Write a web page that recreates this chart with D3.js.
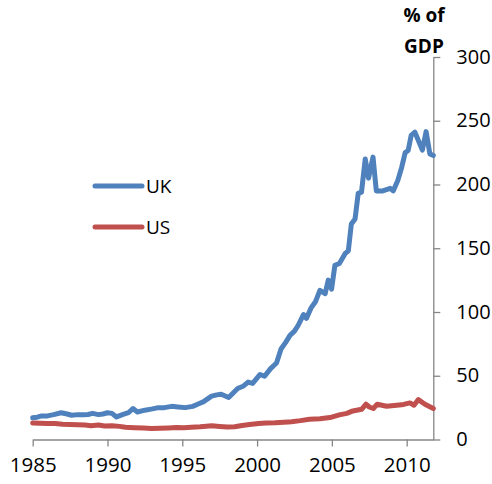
<!DOCTYPE html>
<html>
<head>
<meta charset="utf-8">
<script src="https://cdn.jsdelivr.net/npm/d3@7"></script>
<style>
  html, body { margin: 0; padding: 0; background: #fff; }
  svg { display: block; }
  text { font-family: "Open Sans", "Liberation Sans", sans-serif; fill: #000; }
</style>
</head>
<body>
<script>
// ---- data ----
const seriesNames = ["UK", "US"];
const seriesColors = ["#4F81BD", "#C0504D"];

const ukYears = [1985.0,1985.3,1985.6,1986.0,1986.4,1986.9,1987.3,1987.6,1988.0,1988.4,1988.7,1989.0,1989.4,1989.7,1990.0,1990.3,1990.6,1991.0,1991.4,1991.7,1992.0,1992.5,1993.0,1993.4,1993.8,1994.3,1994.7,1995.2,1995.7,1996.1,1996.4,1996.96,1997.3,1997.6,1998.1,1998.4,1998.7,1999.1,1999.4,1999.7,2000.2,2000.5,2000.9,2001.3,2001.6,2001.9,2002.2,2002.5,2002.75,2003.1,2003.3,2003.6,2003.9,2004.2,2004.55,2004.76,2004.98,2005.2,2005.5,2005.9,2006.1,2006.3,2006.55,2006.76,2006.98,2007.23,2007.45,2007.75,2007.97,2008.4,2008.9,2009.1,2009.4,2009.67,2009.9,2010.1,2010.3,2010.55,2011.05,2011.3,2011.55,2011.78];
const ukValues = [17,17.5,18.5,18.5,19.5,21,20,19,19.5,19.5,19.6,20.5,19.5,20,21,20.5,17.7,19.5,21,24.3,21.6,23,24,25,25,26,25.5,25,26,28,29.5,34,35,35.5,33,36.5,40,42,45,44,51,49.6,55.6,60,71,76,81.7,85,89.6,98,95,103,108,117,114.4,125,118,136.6,138,146,148,169,173,193,194,220,205,221.5,195,195,197,195,203,213.6,225,226.7,238.5,241,227,241.5,224,222.8];

const usYears = [1985.0,1985.5,1986.0,1986.5,1987.0,1987.5,1988.0,1988.5,1988.9,1989.4,1989.8,1990.3,1990.8,1991.2,1991.8,1992.4,1992.95,1993.5,1994.07,1994.6,1995.1,1995.6,1996.2,1996.6,1996.97,1997.5,1998.0,1998.5,1999.0,1999.5,2000.1,2000.6,2001.2,2001.8,2002.3,2002.9,2003.5,2004.2,2004.87,2005.5,2006.0,2006.4,2006.99,2007.28,2007.5,2007.77,2008.03,2008.66,2009.33,2009.8,2010.22,2010.49,2010.78,2011.22,2011.78];
const usValues = [13,12.8,12.5,12.6,12,11.7,11.5,11.3,10.8,11.4,10.6,10.8,10.3,9.6,9.3,9,8.6,8.8,9.1,9.4,9.3,9.6,10,10.4,10.7,10.2,9.8,10,11,11.8,12.6,13,13.2,13.6,14,14.8,15.9,16.3,17.2,19.3,20.5,22.4,23.7,27.7,25.5,24.3,27.7,26.1,26.9,27.5,28.7,26.9,31.3,27.7,24.3];

const xTicks = [1985, 1990, 1995, 2000, 2005, 2010];
const yTicks = [0, 50, 100, 150, 200, 250, 300];
const yTitle = ["% of", "GDP"];

// ---- drawing ----
const W = 492, H = 484;
const svg = d3.select("body").append("svg").attr("width", W).attr("height", H);

const x = d3.scaleLinear().domain([1985, 2011.78]).range([32.7, 433.3]);
const y = d3.scaleLinear().domain([0, 300]).range([439.5, 57]);

const axisColor = "#868686";

// x axis
const xAxis = svg.append("g").attr("transform", `translate(0,${y(0)})`)
  .call(d3.axisBottom(x).tickValues(xTicks).tickFormat(d3.format("d")).tickSize(7).tickSizeOuter(0).tickPadding(11));
xAxis.select(".domain").attr("stroke", axisColor).attr("stroke-width", 1.3);
xAxis.selectAll(".tick line").attr("stroke", axisColor).attr("stroke-width", 1.3);
xAxis.selectAll(".tick text").attr("font-size", 20.5).attr("font-family", "'Open Sans', sans-serif").attr("fill", "#000");

// y axis (on the right)
const yAxis = svg.append("g").attr("transform", `translate(${x(2011.78)},0)`)
  .call(d3.axisRight(y).tickValues(yTicks).tickSize(7).tickSizeOuter(0).tickPadding(16));
yAxis.select(".domain").attr("stroke", axisColor).attr("stroke-width", 1.3);
yAxis.selectAll(".tick line").attr("stroke", axisColor).attr("stroke-width", 1.3);
yAxis.selectAll(".tick text").attr("font-size", 20).attr("font-family", "'Open Sans', sans-serif").attr("fill", "#000").attr("dy", "0.3em");

// y title
svg.append("g").selectAll("text").data(yTitle).join("text")
  .attr("x", 424).attr("y", (d, i) => 22 + i * 31)
  .attr("text-anchor", "middle").attr("font-size", 19).attr("font-weight", "bold")
  .text(d => d);

// lines
const line = d3.line().x(d => x(d[0])).y(d => y(d[1]));
const ukData = d3.zip(ukYears, ukValues);
const usData = d3.zip(usYears, usValues);
const all = [ukData, usData];

svg.append("g").selectAll("path").data(all).join("path")
  .attr("d", line)
  .attr("fill", "none")
  .attr("stroke", (d, i) => seriesColors[i])
  .attr("stroke-width", 5)
  .attr("stroke-linejoin", "round")
  .attr("stroke-linecap", "round");

// legend
const legend = svg.append("g").selectAll("g").data(seriesNames).join("g")
  .attr("transform", (d, i) => `translate(95,${186 + i * 41})`);
legend.append("line").attr("x1", 0).attr("x2", 47).attr("y1", 0).attr("y2", 0)
  .attr("stroke", (d, i) => seriesColors[i]).attr("stroke-width", 5).attr("stroke-linecap", "round");
legend.append("text").attr("x", 51).attr("y", 7).attr("font-size", 19).text(d => d);
</script>
</body>
</html>
